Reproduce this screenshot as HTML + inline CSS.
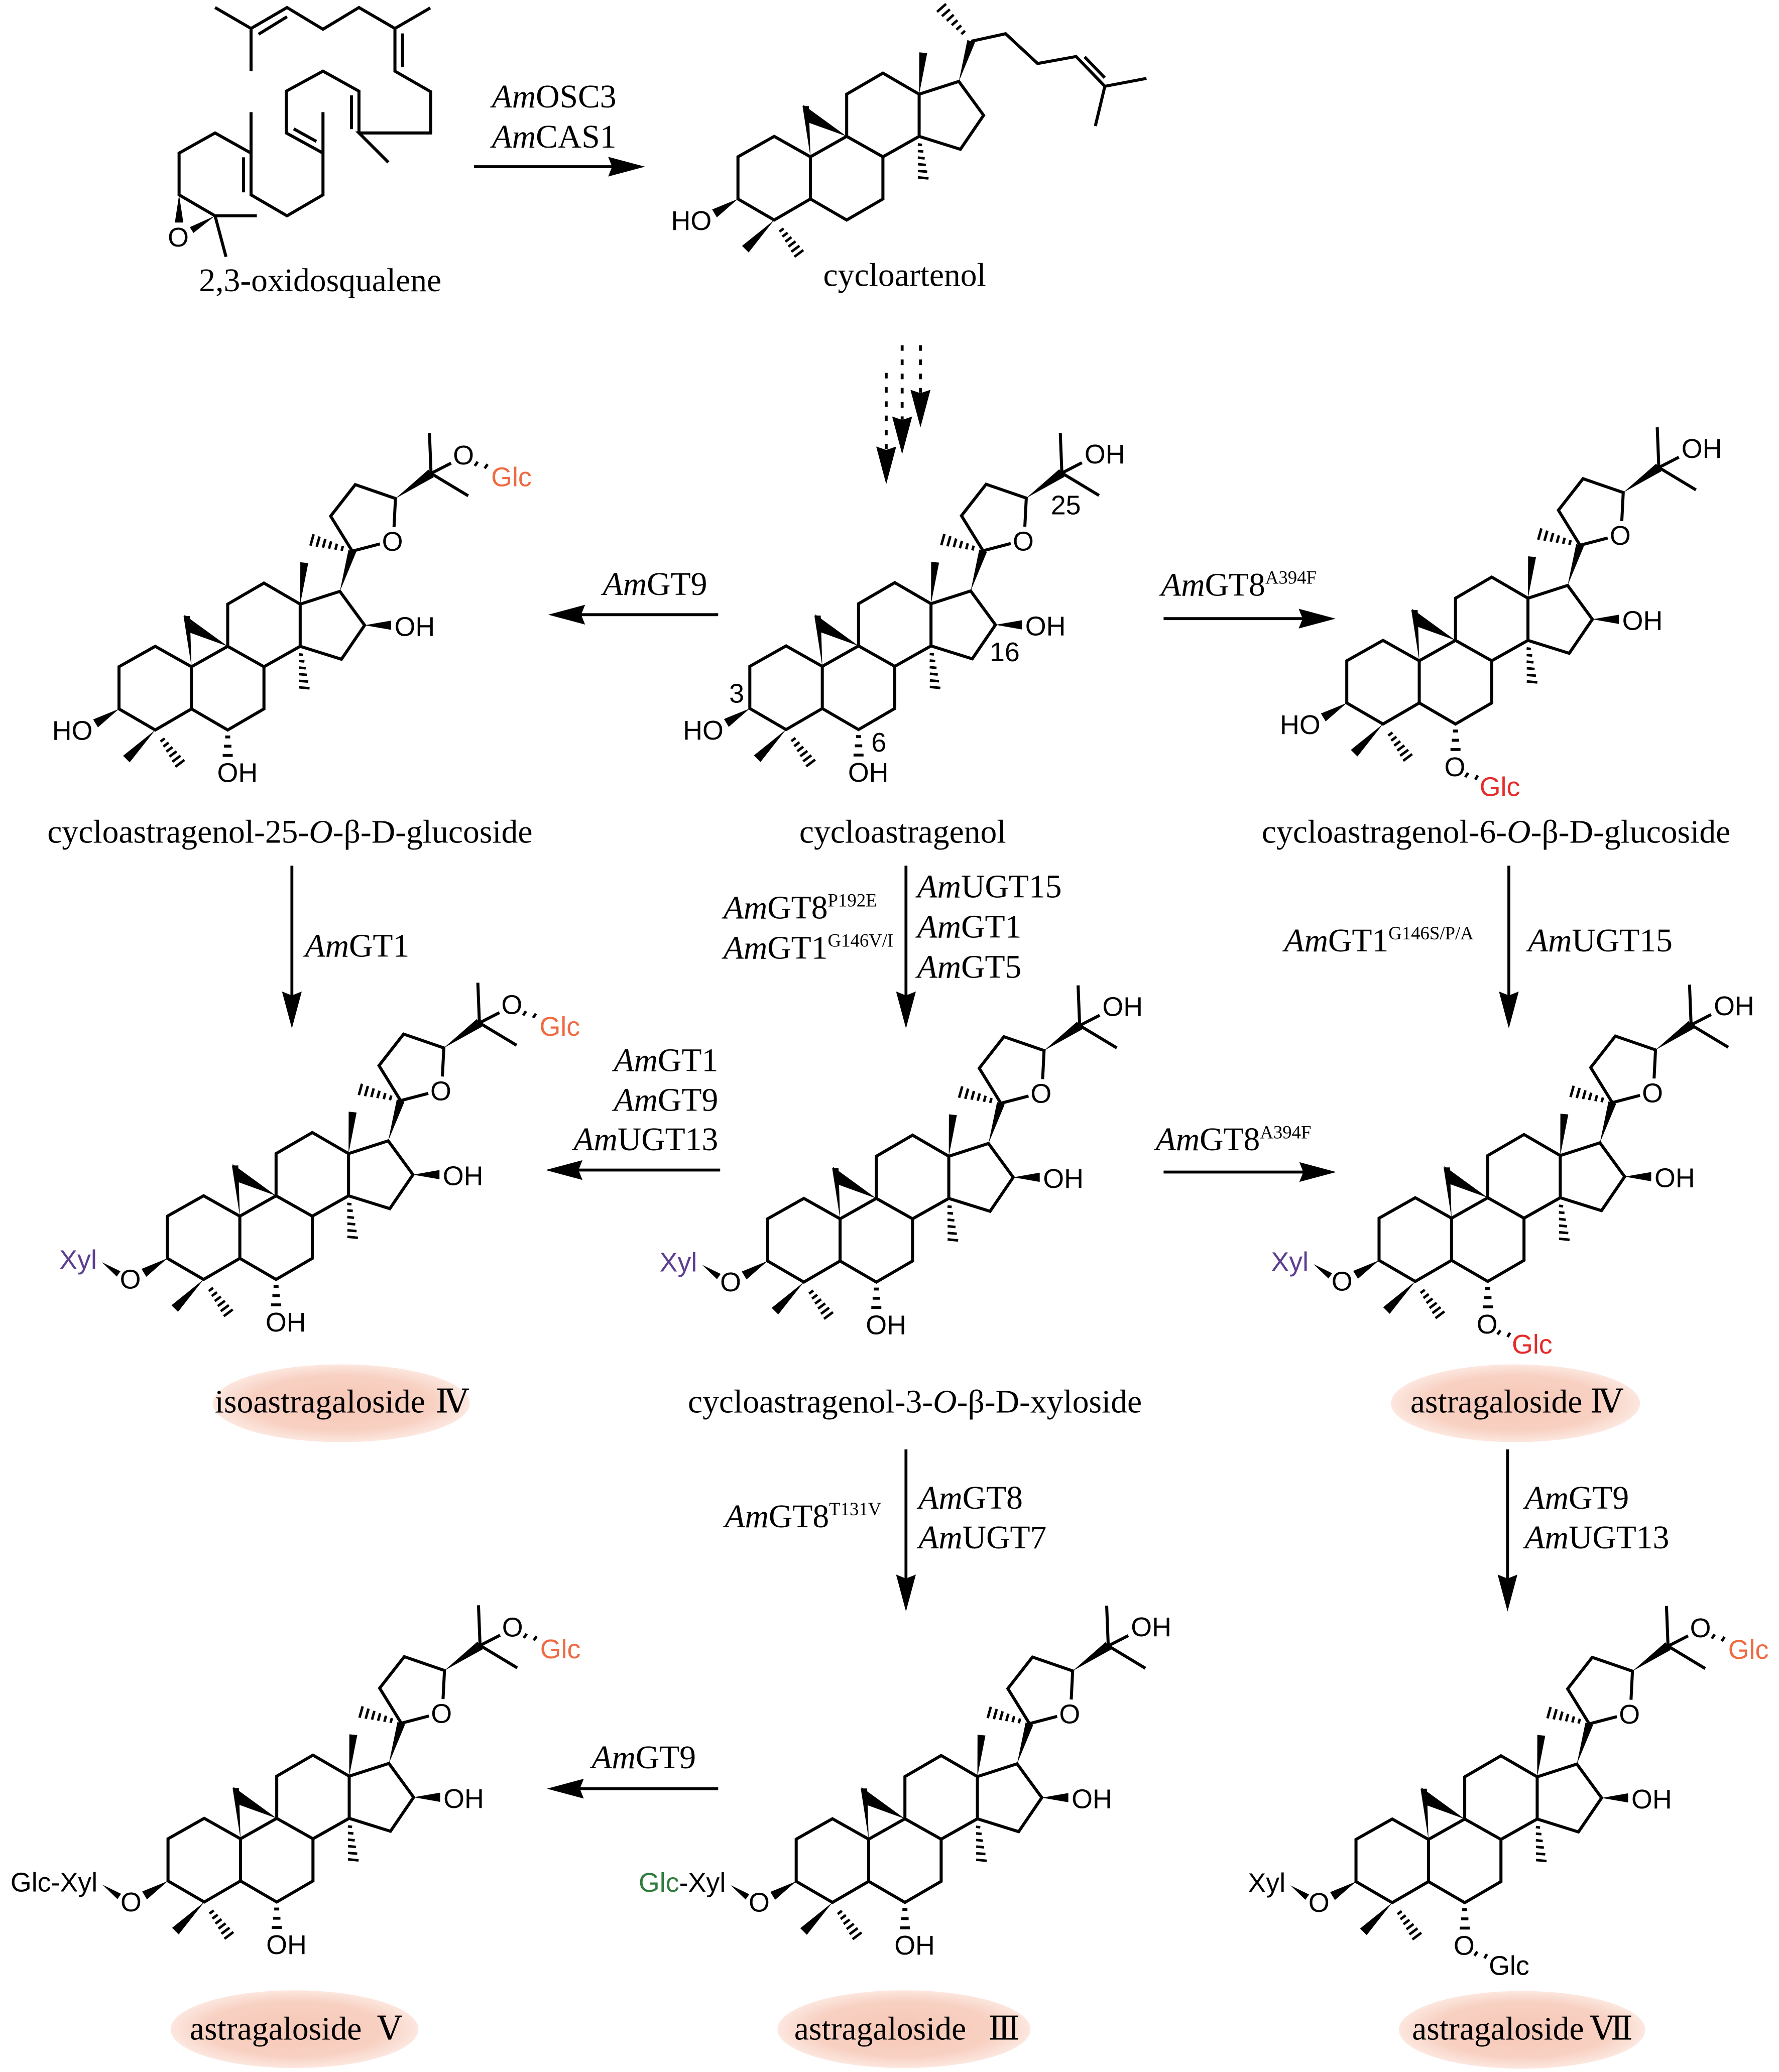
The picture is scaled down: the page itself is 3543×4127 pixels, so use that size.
<!DOCTYPE html>
<html>
<head>
<meta charset="utf-8">
<style>
html,body{margin:0;padding:0;background:#fff;}
svg{display:block;}
.s{font-family:"Liberation Sans",Arial,sans-serif;font-size:20.5px;}
.t{font-family:"Liberation Serif","Times New Roman",serif;font-size:25px;}
.n{font-family:"Liberation Serif","DejaVu Serif","Noto Serif CJK SC",serif;font-size:25px;}
</style>
</head>
<body>
<svg xmlns="http://www.w3.org/2000/svg" width="3543" height="4127" viewBox="0 0 1350 1572.5" preserveAspectRatio="none">
<defs>
<radialGradient id="pk" cx="50%" cy="50%" r="50%">
<stop offset="0" stop-color="#f6c7b6"/>
<stop offset="0.72" stop-color="#f8d1c3"/>
<stop offset="1" stop-color="#fce7df"/>
</radialGradient>
<g id="rings">
<path fill="none" stroke="#000" stroke-width="2.3" d="M-27.5,-15.5L-55,0L-55,32L-27.5,48L0,32L0,0Z M0,0L27.5,-15.5L55,0L55,32L27.5,48L0,32 M27.5,-15.5L27.5,-47.5L55,-63.5L82.5,-47.5L82.5,-15.5L55,0 M82.5,-47.5L112.6,-57.2L131.4,-31.5L113.8,-5.7L82.5,-15.5"/>
<path fill="#000" d="M0,0L-6,-38.5L-1.2,-38.5Z"/>
<path fill="#000" d="M27.5,-15.5L-5.5,-39.5L-1.6,-26Z"/>
<path fill="#000" d="M82.5,-47.5L88.6,-78.7L82.6,-79.3Z"/>
<path fill="#000" d="M-27.5,48L-46.9,72.6L-51.9,67.6Z"/>
<path fill="#000" d="M-55,32L-71,46L-74.6,40Z"/>
<path fill="#000" d="M112.6,-57.2L124.9,-86.8L119.1,-88.6Z"/>
<path fill="none" stroke="#000" stroke-width="1.9" d="M81.5,-9.4L84.7,-9 M81.5,-4.4L85.7,-4 M81.5,0.6L86.7,1.2 M81.6,5.6L87.6,6.2 M81.6,10.7L88.6,11.3 M81.6,15.6L89.6,16.4 M-20.3,54.4L-23.5,56.8 M-17.3,57.6L-21.3,60.6 M-14.4,61L-19,64.4 M-11.3,64.2L-16.7,68.2 M-8.3,67.5L-14.5,72.1 M-5.4,70.8L-12.2,75.9"/>
</g>
<g id="side">
<path fill="none" stroke="#000" stroke-width="2.3" d="M122,-87.7L105.6,-114.3L124.3,-138.2L154.8,-127.7L153.7,-106 M122,-87.7L143,-93.2 M181.8,-146.7L180.6,-177.2 M181.8,-146.7L210,-129.7 M181.8,-146.7L197,-154.5"/>
<path fill="#000" d="M154.8,-127.7L183.8,-143.8L179.8,-149.6Z"/>
<path fill="#000" d="M131.4,-31.5L151.5,-28L151.5,-35Z"/>
<path fill="none" stroke="#000" stroke-width="1.9" d="M114.9,-91.6L113.9,-88 M110.4,-93.4L109.2,-88.8 M106,-95.2L104.4,-89.6 M101.6,-97L99.8,-90.4 M97.2,-98.8L95,-91.1 M92.7,-100.5L90.3,-91.9"/>
<path fill="none" stroke="#000" stroke-width="2.2" d="M25.6,53.3L29.4,53.3 M24.7,60.3L30.3,60.3 M23.7,67.3L31.3,67.3"/>
</g>
</defs>

<rect x="0" y="0" width="1350" height="1572.5" fill="#fff"/>

<!-- ===== 2,3-oxidosqualene ===== -->
<g>
<path fill="none" stroke="#000" stroke-width="2.3" d="M163.2,5.7L190.5,21.6L217.8,5.7L245.1,22.2L272.4,5.7L299.7,21.6L326.5,6 M190.5,21.6L190.5,54 M299.7,21.6L299.7,54L326.8,69.6L326.8,100.9L272.4,100.9L294.7,123.2 M272.4,100.9L272.4,69.2L245.1,54L217.2,69.2L217.2,100.9L245.1,116.2 M245.1,85.1L245.1,147.9L217.8,163.8L190.5,147.9L190.5,85.1 M190.5,116.2L163.2,100.9L135.9,116.2L135.9,147.9L163.2,163.8L194.9,163.8 M163.2,163.8L171.5,194.9 M196.2,26L217.8,12.7 M305.5,25.4L305.5,50.8 M266.7,72.4L266.7,98 M222.9,97.8L240.1,107.3 M184.8,119.4L184.8,146"/>
<path fill="#000" d="M135.9,147.9L132.7,168.9L139.1,168.9Z"/>
<path fill="#000" d="M163.2,163.8L146.8,176.8L144,172.4Z"/>
<text class="s" x="135.3" y="187" text-anchor="middle">O</text>
</g>
<text class="t" x="243" y="221" text-anchor="middle">2,3-oxidosqualene</text>

<!-- top arrow -->
<path fill="none" stroke="#000" stroke-width="2.2" d="M359.7,126.5L465,126.5"/>
<path fill="#000" d="M489.5,126.5L461.5,119L464.5,126.5L461.5,134Z"/>
<text class="t" x="420.5" y="81.5" text-anchor="middle"><tspan font-style="italic">Am</tspan>OSC3</text>
<text class="t" x="420.5" y="112" text-anchor="middle"><tspan font-style="italic">Am</tspan>CAS1</text>

<!-- ===== cycloartenol ===== -->
<g transform="translate(615,119)">
<use href="#rings"/>
<path fill="none" stroke="#000" stroke-width="2.3" d="M122,-87.7L148.1,-93.4L172.4,-70.8L201.6,-76.1L223.4,-53.5L255,-59.5 M223.4,-53.5L216.2,-23.4 M208.1,-75.8L223.3,-60"/>
<path fill="none" stroke="#000" stroke-width="1.9" d="M117.3,-95.6L114.5,-93.1 M114.4,-99.7L110.8,-96.5 M111.6,-103.7L107.2,-99.9 M108.7,-107.8L103.5,-103.2 M105.8,-111.9L99.8,-106.7 M102.9,-116L96.1,-110"/>
<text class="s" x="-75" y="55.5" text-anchor="end">HO</text>
</g>
<text class="t" x="686.5" y="217" text-anchor="middle">cycloartenol</text>

<!-- dashed arrows -->
<path fill="none" stroke="#000" stroke-width="2.2" stroke-dasharray="4.2 6.6" d="M672.5,283L672.5,341 M684.6,262L684.6,318.5 M698.5,262L698.5,298"/>
<path fill="#000" d="M672.5,367.5L664.9,338.9L672.5,341.5L680.1,338.9Z"/>
<path fill="#000" d="M684.6,344.7L677,316.1L684.6,318.7L692.2,316.1Z"/>
<path fill="#000" d="M698.5,324.4L690.9,295.8L698.5,298.4L706.1,295.8Z"/>

<!-- ===== Row 1 ===== -->
<g transform="translate(145.3,506)">
<use href="#rings"/><use href="#side"/>
<g class="s">
<text x="152.5" y="-88" text-anchor="middle">O</text>
<text x="154" y="-23.5">OH</text>
<text x="206.4" y="-153.5" text-anchor="middle">O</text>
<text x="227.4" y="-137" fill="#ef6a43">Glc</text>
<text x="-75" y="55.5" text-anchor="end">HO</text>
<text x="19.5" y="87.5">OH</text>
</g>
<path fill="none" stroke="#000" stroke-width="2" d="M215,-152.4L217.2,-155.6 M222.5,-150.5L224.7,-153.7"/>
</g>

<g transform="translate(624,505.7)">
<use href="#rings"/><use href="#side"/>
<g class="s">
<text x="152.5" y="-88" text-anchor="middle">O</text>
<text x="154" y="-23.5">OH</text>
<text x="199" y="-154">OH</text>
<text x="-75" y="55.5" text-anchor="end">HO</text>
<text x="19.5" y="87.5">OH</text>
<text x="-65" y="27.6" text-anchor="middle">3</text>
<text x="42.9" y="64.7" text-anchor="middle">6</text>
<text x="138.4" y="-3.8" text-anchor="middle">16</text>
<text x="184.8" y="-115.3" text-anchor="middle">25</text>
</g>
</g>

<g transform="translate(1077,501.5)">
<use href="#rings"/><use href="#side"/>
<g class="s">
<text x="152.5" y="-88" text-anchor="middle">O</text>
<text x="154" y="-23.5">OH</text>
<text x="199" y="-154">OH</text>
<text x="-75" y="55.5" text-anchor="end">HO</text>
<text x="27" y="87.5" text-anchor="middle">O</text>
<text x="45.8" y="102.7" fill="#e62a2a">Glc</text>
</g>
<path fill="none" stroke="#000" stroke-width="2" d="M34.9,88.3L37.1,85.1 M42.5,90.2L44.4,87"/>
</g>

<!-- row 1 arrows -->
<path fill="none" stroke="#000" stroke-width="2.2" d="M545,466.5L441,466.5 M883,469.5L989,469.5"/>
<path fill="#000" d="M416,466.5L444,459L441,466.5L444,474Z"/>
<path fill="#000" d="M1013.5,469.5L985.5,462L988.5,469.5L985.5,477Z"/>
<text class="t" x="457.5" y="451.5"><tspan font-style="italic">Am</tspan>GT9</text>
<text class="t" x="881" y="452"><tspan font-style="italic">Am</tspan>GT8<tspan font-size="14" dy="-9">A394F</tspan></text>

<!-- row 1 names -->
<text class="t" x="220" y="639.5" text-anchor="middle">cycloastragenol-25-<tspan font-style="italic">O</tspan>-β-D-glucoside</text>
<text class="t" x="685" y="639.5" text-anchor="middle">cycloastragenol</text>
<text class="t" x="957.5" y="639.5">cycloastragenol-6-<tspan font-style="italic">O</tspan>-β-D-glucoside</text>

<!-- row1 -> row2 arrows -->
<path fill="none" stroke="#000" stroke-width="2.2" d="M221.5,657L221.5,756 M687.5,657L687.5,756 M1145,657L1145,756"/>
<path fill="#000" d="M221.5,780.5L214,752.5L221.5,755.5L229,752.5Z"/>
<path fill="#000" d="M687.5,780.5L680,752.5L687.5,755.5L695,752.5Z"/>
<path fill="#000" d="M1145,780.5L1137.5,752.5L1145,755.5L1152.5,752.5Z"/>
<text class="t" x="231.5" y="726"><tspan font-style="italic">Am</tspan>GT1</text>
<text class="t" x="549" y="697"><tspan font-style="italic">Am</tspan>GT8<tspan font-size="14" dy="-9">P192E</tspan></text>
<text class="t" x="549" y="727.5"><tspan font-style="italic">Am</tspan>GT1<tspan font-size="14" dy="-9">G146V/I</tspan></text>
<text class="t" x="696" y="681"><tspan font-style="italic">Am</tspan>UGT15</text>
<text class="t" x="696" y="711.5"><tspan font-style="italic">Am</tspan>GT1</text>
<text class="t" x="696" y="742"><tspan font-style="italic">Am</tspan>GT5</text>
<text class="t" x="974.5" y="722"><tspan font-style="italic">Am</tspan>GT1<tspan font-size="14" dy="-9">G146S/P/A</tspan></text>
<text class="t" x="1159.5" y="722"><tspan font-style="italic">Am</tspan>UGT15</text>

<!-- ===== Row 2 ===== -->
<g transform="translate(182,923)">
<use href="#rings"/><use href="#side"/>
<g class="s">
<text x="152.5" y="-88" text-anchor="middle">O</text>
<text x="154" y="-23.5">OH</text>
<text x="206.4" y="-153.5" text-anchor="middle">O</text>
<text x="227.4" y="-137" fill="#ef6a43">Glc</text>
<text x="-83.1" y="55" text-anchor="middle">O</text>
<text x="-108.5" y="40" text-anchor="end" fill="#5c3f91">Xyl</text>
<text x="19.5" y="87.5">OH</text>
</g>
<path fill="none" stroke="#000" stroke-width="2" d="M215,-152.4L217.2,-155.6 M222.5,-150.5L224.7,-153.7"/>
<path fill="#000" d="M-104.7,34.9L-93.4,45.8L-90.6,41.8Z"/>
</g>

<g transform="translate(637.5,925)">
<use href="#rings"/><use href="#side"/>
<g class="s">
<text x="152.5" y="-88" text-anchor="middle">O</text>
<text x="154" y="-23.5">OH</text>
<text x="199" y="-154">OH</text>
<text x="-83.1" y="55" text-anchor="middle">O</text>
<text x="-108.5" y="40" text-anchor="end" fill="#5c3f91">Xyl</text>
<text x="19.5" y="87.5">OH</text>
</g>
<path fill="#000" d="M-104.7,34.9L-93.4,45.8L-90.6,41.8Z"/>
</g>

<g transform="translate(1101.5,924.5)">
<use href="#rings"/><use href="#side"/>
<g class="s">
<text x="152.5" y="-88" text-anchor="middle">O</text>
<text x="154" y="-23.5">OH</text>
<text x="199" y="-154">OH</text>
<text x="-83.1" y="55" text-anchor="middle">O</text>
<text x="-108.5" y="40" text-anchor="end" fill="#5c3f91">Xyl</text>
<text x="27" y="87.5" text-anchor="middle">O</text>
<text x="45.8" y="102.7" fill="#e62a2a">Glc</text>
</g>
<path fill="#000" d="M-104.7,34.9L-93.4,45.8L-90.6,41.8Z"/>
<path fill="none" stroke="#000" stroke-width="2" d="M34.9,88.3L37.1,85.1 M42.5,90.2L44.4,87"/>
</g>

<!-- row 2 arrows -->
<path fill="none" stroke="#000" stroke-width="2.2" d="M546.5,888L439,888 M883,889.5L989,889.5"/>
<path fill="#000" d="M414,888L442,880.5L439,888L442,895.5Z"/>
<path fill="#000" d="M1014,889.5L986,882L989,889.5L986,897Z"/>
<text class="t" x="545" y="813" text-anchor="end"><tspan font-style="italic">Am</tspan>GT1</text>
<text class="t" x="545" y="843" text-anchor="end"><tspan font-style="italic">Am</tspan>GT9</text>
<text class="t" x="545" y="873" text-anchor="end"><tspan font-style="italic">Am</tspan>UGT13</text>
<text class="t" x="877" y="873"><tspan font-style="italic">Am</tspan>GT8<tspan font-size="14" dy="-9">A394F</tspan></text>

<!-- row 2 names -->
<ellipse cx="259" cy="1065" rx="97.5" ry="29.5" fill="url(#pk)"/>
<ellipse cx="1150" cy="1065" rx="94.5" ry="29.5" fill="url(#pk)"/>
<text class="t" x="163" y="1072">isoastragaloside</text>
<text class="n" x="343" y="1072" text-anchor="middle">Ⅳ</text>
<text class="t" x="522" y="1072">cycloastragenol-3-<tspan font-style="italic">O</tspan>-β-D-xyloside</text>
<text class="t" x="1070.3" y="1072">astragaloside</text>
<text class="n" x="1219" y="1072" text-anchor="middle">Ⅳ</text>

<!-- row2 -> row3 arrows -->
<path fill="none" stroke="#000" stroke-width="2.2" d="M687.5,1100L687.5,1198 M1144,1100L1144,1198"/>
<path fill="#000" d="M687.5,1223L680,1195L687.5,1198L695,1195Z"/>
<path fill="#000" d="M1144,1223L1136.5,1195L1144,1198L1151.5,1195Z"/>
<text class="t" x="550" y="1159"><tspan font-style="italic">Am</tspan>GT8<tspan font-size="14" dy="-9">T131V</tspan></text>
<text class="t" x="697" y="1145"><tspan font-style="italic">Am</tspan>GT8</text>
<text class="t" x="697" y="1175"><tspan font-style="italic">Am</tspan>UGT7</text>
<text class="t" x="1157" y="1145"><tspan font-style="italic">Am</tspan>GT9</text>
<text class="t" x="1157" y="1175"><tspan font-style="italic">Am</tspan>UGT13</text>

<!-- ===== Row 3 ===== -->
<g transform="translate(182.5,1395.5)">
<use href="#rings"/><use href="#side"/>
<g class="s">
<text x="152.5" y="-88" text-anchor="middle">O</text>
<text x="154" y="-23.5">OH</text>
<text x="206.4" y="-153.5" text-anchor="middle">O</text>
<text x="227.4" y="-137" fill="#ef6a43">Glc</text>
<text x="-83.1" y="55" text-anchor="middle">O</text>
<text x="-108.5" y="40" text-anchor="end">Glc-Xyl</text>
<text x="19.5" y="87.5">OH</text>
</g>
<path fill="none" stroke="#000" stroke-width="2" d="M215,-152.4L217.2,-155.6 M222.5,-150.5L224.7,-153.7"/>
<path fill="#000" d="M-104.7,34.9L-93.4,45.8L-90.6,41.8Z"/>
</g>

<g transform="translate(659.2,1395.8)">
<use href="#rings"/><use href="#side"/>
<g class="s">
<text x="152.5" y="-88" text-anchor="middle">O</text>
<text x="154" y="-23.5">OH</text>
<text x="199" y="-154">OH</text>
<text x="-83.1" y="55" text-anchor="middle">O</text>
<text x="-108.5" y="40" text-anchor="end"><tspan fill="#2e7d3c">Glc</tspan>-Xyl</text>
<text x="19.5" y="87.5">OH</text>
</g>
<path fill="#000" d="M-104.7,34.9L-93.4,45.8L-90.6,41.8Z"/>
</g>

<g transform="translate(1084,1396)">
<use href="#rings"/><use href="#side"/>
<g class="s">
<text x="152.5" y="-88" text-anchor="middle">O</text>
<text x="154" y="-23.5">OH</text>
<text x="206.4" y="-153.5" text-anchor="middle">O</text>
<text x="227.4" y="-137" fill="#ef6a43">Glc</text>
<text x="-83.1" y="55" text-anchor="middle">O</text>
<text x="-108.5" y="40" text-anchor="end">Xyl</text>
<text x="27" y="87.5" text-anchor="middle">O</text>
<text x="45.8" y="102.7">Glc</text>
</g>
<path fill="none" stroke="#000" stroke-width="2" d="M215,-152.4L217.2,-155.6 M222.5,-150.5L224.7,-153.7 M34.9,88.3L37.1,85.1 M42.5,90.2L44.4,87"/>
<path fill="#000" d="M-104.7,34.9L-93.4,45.8L-90.6,41.8Z"/>
</g>

<!-- row 3 arrow -->
<path fill="none" stroke="#000" stroke-width="2.2" d="M545,1357.5L440,1357.5"/>
<path fill="#000" d="M415,1357.5L443,1350L440,1357.5L443,1365Z"/>
<text class="t" x="449" y="1342"><tspan font-style="italic">Am</tspan>GT9</text>

<!-- row 3 names -->
<ellipse cx="223.5" cy="1540" rx="94" ry="29.5" fill="url(#pk)"/>
<ellipse cx="686" cy="1540" rx="96" ry="29.5" fill="url(#pk)"/>
<ellipse cx="1155" cy="1540.5" rx="93.5" ry="29.5" fill="url(#pk)"/>
<text class="t" x="144" y="1548">astragaloside</text>
<text class="n" x="295.6" y="1548" text-anchor="middle">Ⅴ</text>
<text class="t" x="602.7" y="1548">astragaloside</text>
<text class="n" x="762" y="1548" text-anchor="middle">Ⅲ</text>
<text class="t" x="1071.5" y="1548">astragaloside</text>
<text class="n" x="1223" y="1548" text-anchor="middle">Ⅶ</text>

</svg>
</body>
</html>
